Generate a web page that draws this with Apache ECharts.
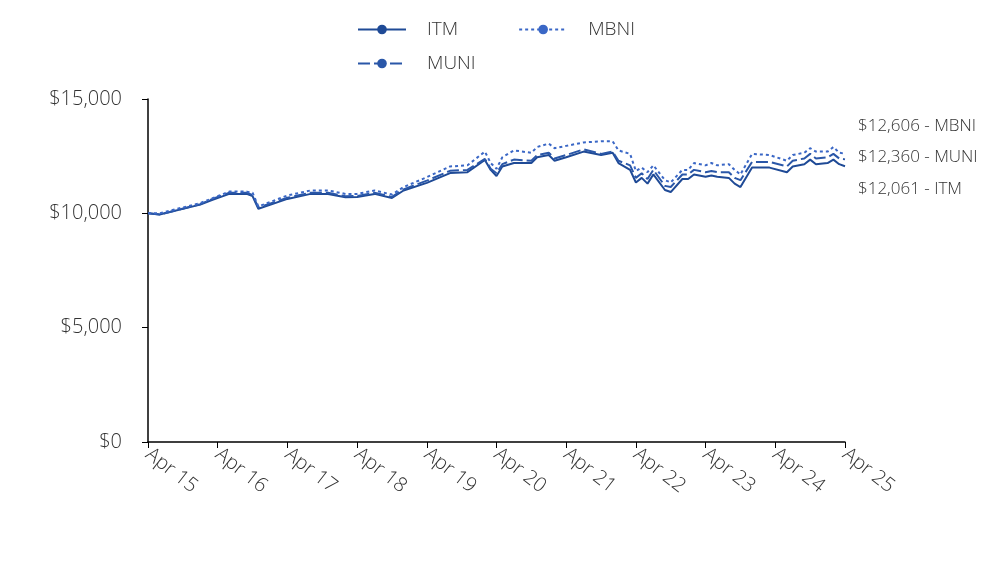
<!DOCTYPE html>
<html><head><meta charset="utf-8">
<script src="https://cdn.jsdelivr.net/npm/echarts@6/dist/echarts.min.js"></script>
<style>html,body{margin:0;padding:0;background:#fff}#c{width:1008px;height:564px}</style>
</head><body><div id="c"></div>
<script>
// months since Apr 2015
const months = [0,2,9,11,14,17,18,19,24,28,31,34,36,39,42,44,48,52,55,58,59,60,61,63,66,67,69,70,72,75,78,80,81,83,84,85,86,87,89,90,92,93,94,96,97,98,100,101,102,104,107,110,111,113,114,115,117,118,119,120];
const itm  = [10000,9950,10380,10580,10850,10850,10750,10200,10630,10850,10850,10700,10710,10850,10670,11000,11330,11760,11800,12330,11900,11630,12050,12200,12200,12450,12550,12300,12450,12700,12550,12650,12200,11900,11350,11550,11300,11700,11020,10930,11500,11500,11700,11600,11650,11600,11550,11300,11150,12000,12000,11800,12050,12150,12350,12150,12200,12350,12150,12061];
const muni = [10000,9950,10400,10620,10900,10900,10800,10250,10680,10900,10900,10750,10760,10900,10720,11050,11430,11860,11900,12380,11950,11750,12150,12350,12300,12550,12650,12400,12550,12800,12600,12700,12300,12100,11550,11750,11500,11900,11200,11150,11700,11700,11900,11800,11850,11800,11800,11550,11450,12250,12250,12050,12300,12400,12600,12400,12450,12600,12400,12360];
const mbni = [10000,10000,10450,10650,10950,10950,10900,10300,10780,11000,11000,10850,10850,11000,10820,11150,11580,12050,12100,12700,12200,11950,12450,12750,12650,12900,13050,12850,12950,13100,13150,13150,12750,12600,11850,12000,11800,12100,11450,11350,11900,11900,12200,12100,12200,12100,12150,11900,11700,12600,12550,12300,12550,12650,12850,12700,12700,12900,12650,12606];
const xStartYear = 15;

const fmt = v => '$' + Math.round(v).toLocaleString('en-US');
const pair = arr => months.map((m,i)=>[m,arr[i]]);
const ch = echarts.init(document.getElementById('c'));
const font = '"Open Sans", sans-serif';
const legTxt = {fontFamily:font,fontSize:19,fontWeight:300,color:'#333',padding:[0,0,0,16]};
ch.setOption({
  animation:false,
  grid:{left:148,right:163,top:99,bottom:122},
  legend:[
    {left:352,top:15,itemWidth:48,itemHeight:12,itemGap:60,textStyle:legTxt,data:['ITM','MBNI']},
    {left:352,top:49,itemWidth:48,itemHeight:12,textStyle:legTxt,data:['MUNI']}
  ],
  xAxis:{type:'value',min:0,max:120,interval:12,
    axisLine:{lineStyle:{color:'#000',width:1.5}},axisTick:{show:true,length:6,lineStyle:{color:'#000'}},
    splitLine:{show:false},
    axisLabel:{rotate:-38,margin:10,fontFamily:font,fontSize:20,fontWeight:300,color:'#333',
      formatter:v=>'Apr '+(xStartYear+v/12)}},
  yAxis:{type:'value',min:0,max:15000,interval:5000,
    axisLine:{show:true,lineStyle:{color:'#000',width:1.5}},axisTick:{show:true,length:6,lineStyle:{color:'#000'}},
    splitLine:{show:false},
    axisLabel:{fontFamily:font,fontSize:20,fontWeight:300,color:'#333',margin:26,formatter:v=>fmt(v)}},
  series:[
    {name:'ITM',type:'line',data:pair(itm),symbol:'none',lineStyle:{color:'#1f4a96',width:2,type:'solid'},itemStyle:{color:'#1f4a96'}},
    {name:'MUNI',type:'line',data:pair(muni),symbol:'none',lineStyle:{color:'#2a57a8',width:2,type:[12,4]},itemStyle:{color:'#2a57a8'}},
    {name:'MBNI',type:'line',data:pair(mbni),symbol:'none',lineStyle:{color:'#3a67c6',width:2,type:[3,3]},itemStyle:{color:'#3a67c6'}}
  ],
  graphic:[
    {type:'text',left:858,top:118,style:{text:fmt(mbni[mbni.length-1])+' - MBNI',font:'300 17px "Open Sans"',fill:'#333'}},
    {type:'text',left:858,top:149,style:{text:fmt(muni[muni.length-1])+' - MUNI',font:'300 17px "Open Sans"',fill:'#333'}},
    {type:'text',left:858,top:181,style:{text:fmt(itm[itm.length-1])+' - ITM',font:'300 17px "Open Sans"',fill:'#333'}}
  ]
});
</script></body></html>
